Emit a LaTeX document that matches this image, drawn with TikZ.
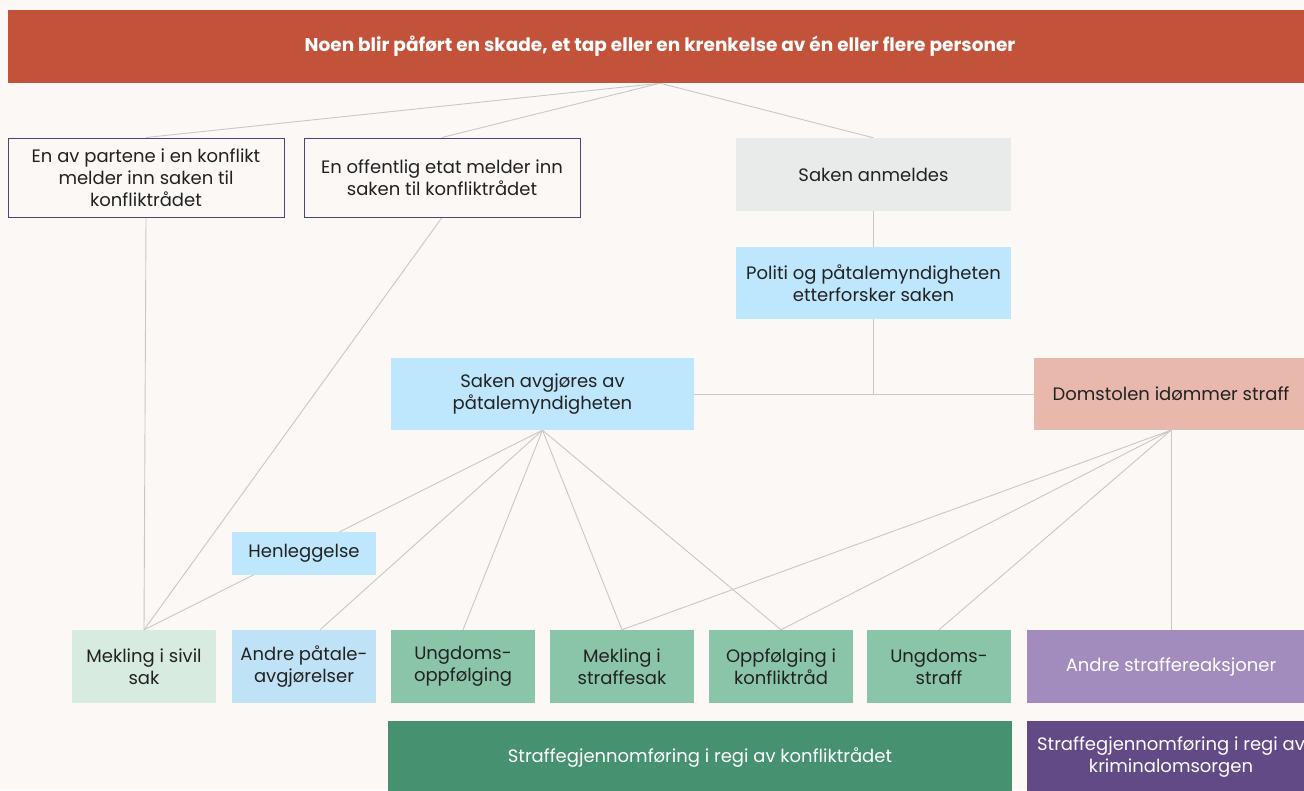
\documentclass[tikz,border=0pt]{standalone}
\usepackage{fontspec}
\setmainfont{Poppins}
\usetikzlibrary{positioning}

\definecolor{paper}{HTML}{FBF8F5}
\definecolor{topred}{HTML}{C3523A}
\definecolor{frame}{HTML}{4E4474}
\definecolor{greybox}{HTML}{E9EAEA}
\definecolor{skyblue}{HTML}{BEE6FD}
\definecolor{paleblue}{HTML}{C0E2F6}
\definecolor{salmon}{HTML}{E8B8AC}
\definecolor{palemint}{HTML}{D7EBE0}
\definecolor{midgreen}{HTML}{8BC5A9}
\definecolor{lilac}{HTML}{A18CBD}
\definecolor{deepgreen}{HTML}{46916F}
\definecolor{deeppurple}{HTML}{614A86}
\definecolor{wire}{HTML}{C8C8C8}
\definecolor{ink}{HTML}{222222}

\pgfdeclarelayer{paperlayer}
\pgfdeclarelayer{wirelayer}
\pgfsetlayers{paperlayer,wirelayer,main}

\begin{document}
\begin{tikzpicture}[x=1pt,y=-1pt,
    box/.style={minimum width=144, minimum height=73, inner sep=2, align=center,
      font=\fontsize{18}{22}\selectfont, text=ink},
    lightbox/.style={box, text=white},
    wire/.style={draw=wire, line width=0.9}]
    \useasboundingbox (0,0) rectangle (1304,790);
    \begin{pgfonlayer}{paperlayer}
      \fill[paper] (0,0) rectangle (1304,790);
    \end{pgfonlayer}
    \clip (0,0) rectangle (1304,790);

    % Top bar
    \node[box, fill=topred, text=white, minimum width=1304, font=\bfseries\fontsize{18.5}{22}\selectfont] (harm) at (660,46.5)
      {Noen blir påført en skade, et tap eller en krenkelse av én eller flere personer};

    % Ways into the system
    \node[box, draw=frame, line width=1, fill=paper, minimum width=276, minimum height=79] (party) at (146,177.5)
      {En av partene i en konflikt\\melder inn saken til\\konfliktrådet};
    \node[box, draw=frame, line width=1, fill=paper, minimum width=276, minimum height=79] (agency) at (442,177.5)
      {En offentlig etat melder inn\\saken til konfliktrådet};
    \node[box, fill=greybox, minimum width=275] (report) at (873.5,174.5) {Saken anmeldes};
    \node[box, fill=skyblue, minimum width=275, minimum height=72] (police) at (873.5,283)
      {Politi og påtalemyndigheten\\etterforsker saken};

    % Decisions
    \node[box, fill=skyblue, minimum width=303, minimum height=72] (prosecutor) at (542.5,394)
      {Saken avgjøres av\\påtalemyndigheten};
    \node[box, fill=salmon, minimum width=274, minimum height=72] (court) at (1171,394) {Domstolen idømmer straff};
    \node[box, fill=skyblue, minimum height=43] (dropped) at (304,553.5) {Henleggelse};

    % Outcomes
    \foreach \n/\x/\c/\t in {civil/144/palemint/{Mekling i sivil\\sak},
        otherdec/304/paleblue/{Andre påtale-\\avgjørelser},
        youthfollow/463/midgreen/{Ungdoms-\\oppfølging},
        criminal/622/midgreen/{Mekling i\\straffesak},
        followup/781/midgreen/{Oppfølging i\\konfliktråd},
        youthpen/939/midgreen/{Ungdoms-\\straff}} {
      \node[box, fill=\c] (\n) at (\x,666.5) {\t};
    }
    \node[lightbox, fill=lilac, minimum width=288] (otherpen) at (1171,666.5) {Andre straffereaksjoner};

    % Who carries out the sentence
    \node[lightbox, fill=deepgreen, minimum width=624] (bycouncil) at (700,757.5)
      {Straffegjennomføring i regi av konfliktrådet};
    \node[lightbox, fill=deeppurple, minimum width=288] (bycorrection) at (1171,757.5)
      {Straffegjennomføring i regi av\\kriminalomsorgen};

    % Connectors
    \begin{pgfonlayer}{wirelayer}
      \foreach \b in {party, agency, report}
        \draw[wire] (harm.south) -- (\b.north);
      \draw[wire] (party.south) -- (civil.north);
      \draw[wire] (agency.south) -- (civil.north);
      \draw[wire] (report.south) -- (police.north);
      \coordinate (join) at (police.south |- prosecutor.east);
      \draw[wire] (police.south) -- (join);
      \draw[wire] (prosecutor.east) -- (court.west);
      \draw[wire] (prosecutor.south) -- (civil.north);
      \draw[wire] (prosecutor.south) -- ([xshift=16]otherdec.north);
      \foreach \b in {youthfollow, criminal, followup}
        \draw[wire] (prosecutor.south) -- (\b.north);
      \foreach \b in {criminal, followup, youthpen, otherpen}
        \draw[wire] (court.south) -- (\b.north);
    \end{pgfonlayer}
\end{tikzpicture}
\end{document}
